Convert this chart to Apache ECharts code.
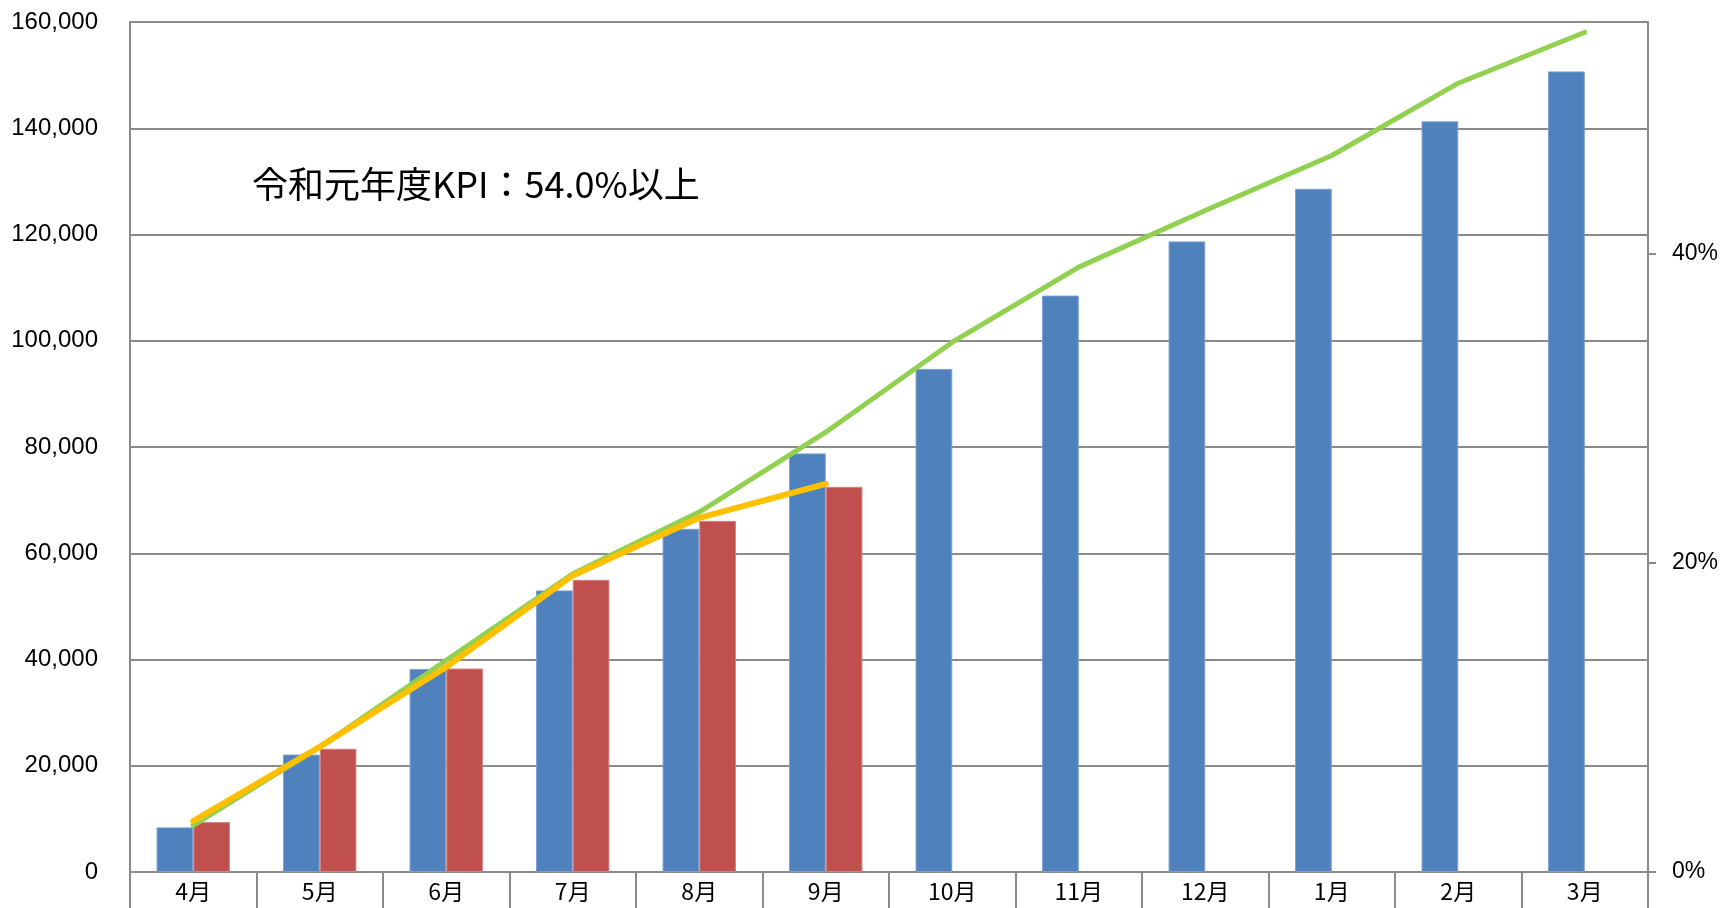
<!DOCTYPE html>
<html>
<head>
<meta charset="utf-8">
<script src="https://cdn.jsdelivr.net/npm/echarts@6/dist/echarts.min.js"></script>
<style>
  html, body { margin: 0; padding: 0; background: #ffffff; }
  #chart { width: 1724px; height: 908px; }
</style>
</head>
<body>
<div id="chart"></div>
<script>
// Months of the fiscal year (April to March)
const months = ['4月', '5月', '6月', '7月', '8月', '9月', '10月', '11月', '12月', '1月', '2月', '3月'];

// Cumulative counts: plan (blue) and actual (red, April to September only)
const planCount = [8400, 22100, 38200, 53000, 64600, 78800, 94700, 108500, 118700, 128600, 141300, 150700];
const actualCount = [9400, 23200, 38300, 55000, 66100, 72500, null, null, null, null, null, null];

// Cumulative rates on the right axis: plan (green) and actual (yellow)
const planRate = [0.0302, 0.0809, 0.137, 0.193, 0.2329, 0.2846, 0.3428, 0.3914, 0.428, 0.4636, 0.5104, 0.5434];
const actualRate = [0.033, 0.081, 0.1326, 0.1919, 0.2292, 0.2512, null, null, null, null, null, null];

// Axis ticks
const countMax = 160000;
const countStep = 20000;
const rateMax = 0.55;
const rateTicks = [0, 0.2, 0.4];

const kpiNote = '令和元年度KPI：54.0%以上';

const gridColor = '#8a8a8a';
const textFont = '"Liberation Sans", Arial, sans-serif';
const cjkFont = '"Noto Sans CJK JP", "Noto Sans", sans-serif';

const chart = echarts.init(document.getElementById('chart'), null, { renderer: 'canvas' });

chart.setOption({
  animation: false,
  backgroundColor: '#ffffff',
  title: {
    text: kpiNote,
    left: 252,
    top: 162,
    padding: 0,
    textStyle: {
      fontFamily: cjkFont,
      fontSize: 36,
      fontWeight: 'normal',
      lineHeight: 44,
      color: '#000000'
    }
  },
  grid: { left: 130, right: 76, top: 22, bottom: 36, containLabel: false },
  xAxis: {
    type: 'category',
    data: months,
    boundaryGap: true,
    axisLine: { show: true, lineStyle: { color: gridColor, width: 2 } },
    axisTick: { show: true, interval: 0, length: 40, lineStyle: { color: gridColor, width: 2 } },
    axisLabel: {
      interval: 0,
      margin: 8,
      color: '#000000',
      fontFamily: cjkFont,
      fontSize: 23
    },
    splitLine: { show: false }
  },
  yAxis: [
    {
      type: 'value',
      min: 0,
      max: countMax,
      interval: countStep,
      position: 'left',
      axisLine: { show: true, lineStyle: { color: gridColor, width: 2 } },
      axisTick: { show: false },
      axisLabel: {
        margin: 32,
        color: '#000000',
        fontFamily: textFont,
        fontSize: 24,
        formatter: v => v.toLocaleString('en-US')
      },
      splitLine: { show: true, lineStyle: { color: gridColor, width: 2 } }
    },
    {
      type: 'value',
      min: 0,
      max: rateMax,
      position: 'right',
      axisLine: { show: true, lineStyle: { color: gridColor, width: 2 } },
      axisTick: {
        show: true,
        length: 8,
        customValues: rateTicks,
        lineStyle: { color: gridColor, width: 2 }
      },
      axisLabel: {
        margin: 24,
        color: '#000000',
        fontFamily: textFont,
        fontSize: 23,
        customValues: rateTicks,
        formatter: v => Math.round(v * 100) + '%'
      },
      splitLine: { show: false }
    }
  ],
  series: [
    {
      name: '計画',
      type: 'bar',
      data: planCount,
      barGap: '0%',
      barCategoryGap: '42%',
      itemStyle: { color: '#4f81bd', borderColor: '#7c9fd0', borderWidth: 1 },
      z: 2
    },
    {
      name: '実績',
      type: 'bar',
      data: actualCount,
      itemStyle: { color: '#c0504d', borderColor: '#d48280', borderWidth: 1 },
      z: 2
    },
    {
      name: '計画率',
      type: 'line',
      yAxisIndex: 1,
      data: planRate,
      symbol: 'none',
      lineStyle: { color: '#92d050', width: 5, cap: 'round', join: 'round' },
      z: 3
    },
    {
      name: '実績率',
      type: 'line',
      yAxisIndex: 1,
      data: actualRate,
      symbol: 'none',
      connectNulls: false,
      lineStyle: { color: '#ffc000', width: 6, cap: 'round', join: 'round' },
      z: 4
    }
  ]
});
</script>
</body>
</html>
